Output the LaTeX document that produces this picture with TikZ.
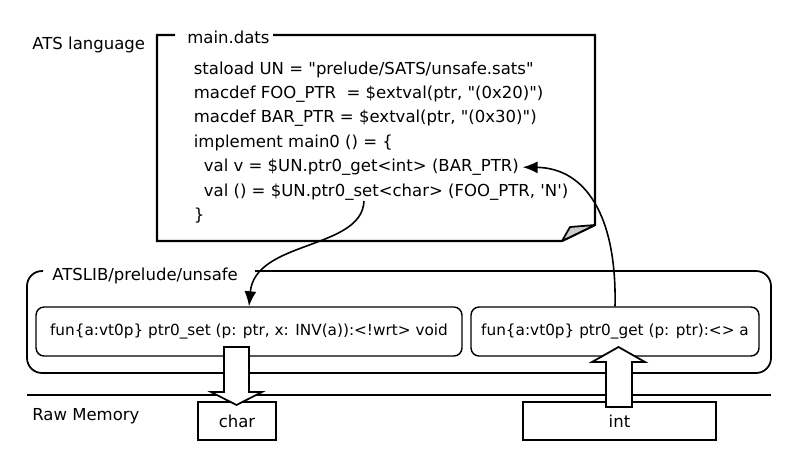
\documentclass[tikz,border=0pt]{standalone}
\usepackage{fontspec}
\setmainfont{DejaVu Sans}
\usetikzlibrary{arrows.meta,positioning}
\tikzset{
  txt/.style={anchor=base west, inner sep=0pt, font=\fontsize{9.4}{13.8}\selectfont},
  codeline/.style={txt, inner xsep=2pt},
  funbox/.style={draw, line width=0.8pt, rounded corners=0.16cm, minimum height=0.98cm, inner sep=0pt, font=\fontsize{8.7}{12}\selectfont},
  membox/.style={draw, line width=1pt, minimum height=0.76cm, inner sep=0pt, font=\fontsize{9.4}{13.8}\selectfont},
  callarrow/.style={line width=0.9pt, -{Latex[length=0.3cm,width=0.24cm]}},
  bigarrow/.style={draw, line width=1pt, fill=white, line join=miter}
}
\begin{document}
\begin{tikzpicture}[x=0.02cm, y=-0.02cm]
\useasboundingbox (0,0) rectangle (800,467);
% source file
\draw[line width=1.2pt] (175,35) -- (157,35) -- (157,241) -- (562,241) -- (595,225) -- (595,35) -- (273,35);
\draw[line width=1pt, fill=gray!40, line join=round] (562,241) -- (570,227) -- (595,225) -- cycle;
\node[txt] (lang) at (32,49) {ATS language};
\node[txt] (src) at (187,43) {main.dats};
\node[codeline] (l1) at (190,74) {staload UN = \textquotedbl prelude/SATS/unsafe.sats\textquotedbl};
\node[codeline] (l2) at (190,98.5) {macdef FOO\_PTR \ = \$extval(ptr, \textquotedbl(0x20)\textquotedbl)};
\node[codeline] (l3) at (190,122.5) {macdef BAR\_PTR = \$extval(ptr, \textquotedbl(0x30)\textquotedbl)};
\node[codeline] (l4) at (190,147) {implement main0 () = \{};
\node[codeline] (l5) at (200,171.5) {val v = \$UN.ptr0\_get<int> (BAR\_PTR)};
\node[codeline] (l6) at (200,196) {val () = \$UN.ptr0\_set<char> (FOO\_PTR, \textquotesingle N\textquotesingle)};
\node[codeline] (l7) at (190,220) {\}};
\coordinate (setref) at (364,201);
% library
\draw[line width=1pt, rounded corners=0.3cm] (43,271) -- (27,271) -- (27,373) -- (771,373) -- (771,271) -- (255,271);
\node[txt] (lib) at (52,280) {ATSLIB/prelude/unsafe};
\node[funbox, minimum width=8.52cm] (set) at (249,331.5) {fun\{a:vt0p\} ptr0\_set (p: ptr, x: INV(a)):<!wrt> void};
\node[funbox, minimum width=5.76cm] (get) at (615,331.5) {fun\{a:vt0p\} ptr0\_get (p: ptr):<> a};
% memory
\draw[line width=1pt] (27,395) -- (771,395);
\node[txt] (mem) at (32,420) {Raw Memory};
\node[membox, minimum width=1.56cm] (char) at (237,421) {char};
\node[membox, minimum width=3.86cm] (int) at (619.5,421) {int};
\draw[bigarrow] (224,347) -- (249,347) -- (249,392) -- (262,392) -- (236.5,405) -- (211,392) -- (224,392) -- cycle;
\draw[bigarrow] (606,407) -- (606,362) -- (592,362) -- (618.5,347) -- (645,362) -- (632,362) -- (632,407) -- cycle;
\draw[callarrow] (setref) .. controls (362,250) and (255,240) .. (set.north);
\draw[callarrow] (get.north) .. controls (617,215) and (585,168) .. (l5.east);
\end{tikzpicture}
\end{document}
